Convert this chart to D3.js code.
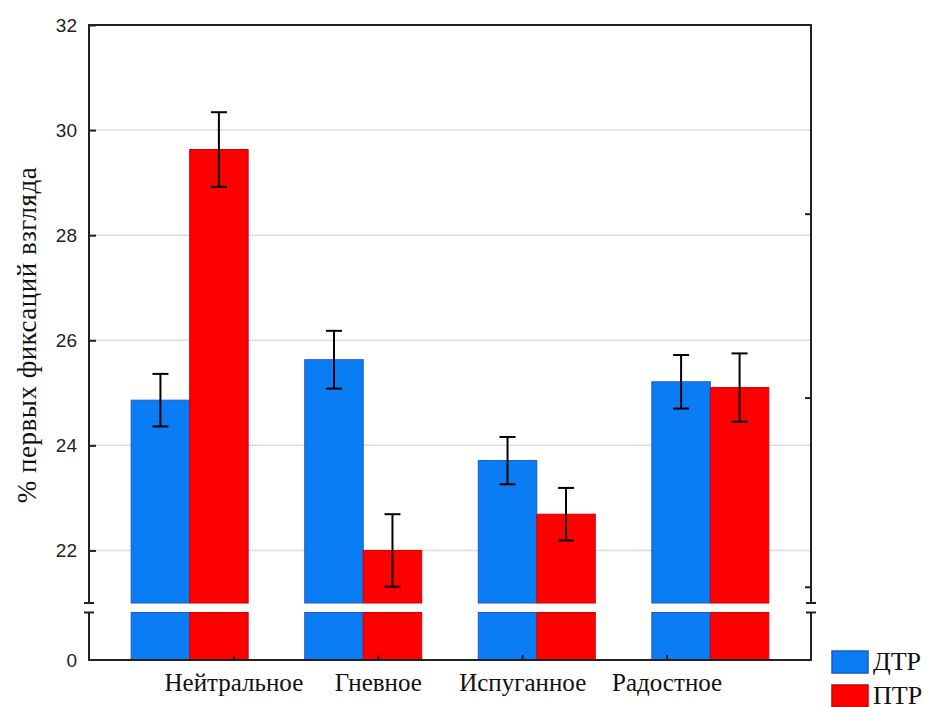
<!DOCTYPE html>
<html>
<head>
<meta charset="utf-8">
<script src="https://cdn.jsdelivr.net/npm/d3@7"></script>
<style>
  body { margin: 0; background: #fff; }
  .tick text { font-family: "Liberation Sans", Arial, sans-serif; }
</style>
</head>
<body>
<div id="chart-area"></div>
<script>
var width = 930,
    height = 707;

// data
var categories = ["Нейтральное", "Гневное", "Испуганное", "Радостное"];
var seriesNames = ["ДТР", "ПТР"];
var dtrValues = [24.86, 25.63, 23.71, 25.21];
var dtrErrors = [0.50, 0.55, 0.45, 0.51];
var ptrValues = [29.63, 22.00, 22.69, 25.10];
var ptrErrors = [0.71, 0.69, 0.50, 0.65];
var yTicks = [22, 24, 26, 28, 30, 32];
var rightTicks = [28.4, 24.9, 21.3];
var colors = ["#0a7df5", "#ff0000"];
var strokes = ["#1f57c8", "#d10000"];

var mLeft = 89, mRight = 811, mTop = 25, mBottom = 660;
var breakTop = 603, breakBottom = 612.5;

var svg = d3.select("#chart-area").append("svg")
    .attr("width", width)
    .attr("height", height);

// upper part of broken axis
var y = d3.scaleLinear()
    .domain([21, 32])
    .range([breakTop, mTop]);

// lower stub below the break (0 .. 1)
var y0 = d3.scaleLinear()
    .domain([0, 1])
    .range([mBottom, breakBottom]);

var x = d3.scalePoint()
    .domain(categories)
    .range([mLeft, mRight])
    .padding(0.58);

var xLabel = d3.scalePoint()
    .domain(categories)
    .range([mLeft, mRight])
    .padding(1);

var barW = x.step() * 0.337;
var xSub = d3.scaleBand()
    .domain(seriesNames)
    .range([-barW, barW]);

var rows = [];
categories.forEach(function(c, i) {
    rows.push({cat: c, s: 0, v: dtrValues[i], e: dtrErrors[i]});
    rows.push({cat: c, s: 1, v: ptrValues[i], e: ptrErrors[i]});
});

// grid lines
svg.selectAll(".grid")
    .data(yTicks.slice(0, -1))
    .enter().append("line")
    .attr("x1", mLeft).attr("x2", mRight)
    .attr("y1", d => y(d)).attr("y2", d => y(d))
    .style("stroke", "#dcdcdc")
    .style("stroke-width", 1.5);

// bars, upper part
svg.selectAll(".barU")
    .data(rows)
    .enter().append("rect")
    .attr("x", d => x(d.cat) + xSub(seriesNames[d.s]))
    .attr("width", xSub.bandwidth())
    .attr("y", d => y(d.v))
    .attr("height", d => y(21) - y(d.v))
    .style("fill", d => colors[d.s])
    .style("stroke", d => strokes[d.s])
    .style("stroke-width", 1);

// bars, lower part
svg.selectAll(".barL")
    .data(rows)
    .enter().append("rect")
    .attr("x", d => x(d.cat) + xSub(seriesNames[d.s]))
    .attr("width", xSub.bandwidth())
    .attr("y", y0(1))
    .attr("height", y0(0) - y0(1))
    .style("fill", d => colors[d.s])
    .style("stroke", d => strokes[d.s])
    .style("stroke-width", 1);

// error bars
var eb = svg.selectAll(".err")
    .data(rows)
    .enter().append("g")
    .attr("transform", d => "translate(" + (x(d.cat) + xSub(seriesNames[d.s]) + xSub.bandwidth() / 2) + ",0)");
eb.append("line")
    .attr("y1", d => y(d.v + d.e)).attr("y2", d => y(d.v - d.e))
    .style("stroke", "#000").style("stroke-width", 2);
eb.append("line")
    .attr("x1", -8).attr("x2", 8)
    .attr("y1", d => y(d.v + d.e)).attr("y2", d => y(d.v + d.e))
    .style("stroke", "#000").style("stroke-width", 2);
eb.append("line")
    .attr("x1", -8).attr("x2", 8)
    .attr("y1", d => y(d.v - d.e)).attr("y2", d => y(d.v - d.e))
    .style("stroke", "#000").style("stroke-width", 2);

// frame
var frameColor = "#222";
svg.append("path")
    .attr("d", "M" + mLeft + "," + breakTop + "V" + mTop + "H" + mRight + "V" + breakTop)
    .style("fill", "none").style("stroke", frameColor).style("stroke-width", 2);
svg.append("path")
    .attr("d", "M" + mLeft + "," + breakBottom + "V" + mBottom + "H" + mRight + "V" + breakBottom)
    .style("fill", "none").style("stroke", frameColor).style("stroke-width", 2);

// break caps
[mLeft, mRight].forEach(function(xx) {
    [breakTop, breakBottom].forEach(function(yy) {
        svg.append("line")
            .attr("x1", xx - 5).attr("x2", xx + 5)
            .attr("y1", yy).attr("y2", yy)
            .style("stroke", frameColor).style("stroke-width", 2);
    });
});

// left axis
var yAxis = svg.append("g")
    .attr("transform", "translate(" + mLeft + ",0)")
    .call(d3.axisLeft(y).tickValues(yTicks).tickSize(-7).tickPadding(12).tickFormat(d3.format("d")));
yAxis.select(".domain").remove();
yAxis.selectAll(".tick line").style("stroke", frameColor).style("stroke-width", 2);
yAxis.selectAll(".tick text").style("font-size", "19px").style("fill", "#222");

var y0Axis = svg.append("g")
    .attr("transform", "translate(" + mLeft + ",0)")
    .call(d3.axisLeft(y0).tickValues([0]).tickSize(0).tickPadding(12).tickFormat(d3.format("d")));
y0Axis.select(".domain").remove();
y0Axis.selectAll(".tick text").style("font-size", "19px").style("fill", "#222");

// right axis minor ticks
svg.selectAll(".rtick")
    .data(rightTicks)
    .enter().append("line")
    .attr("x1", mRight - 6).attr("x2", mRight)
    .attr("y1", d => y(d)).attr("y2", d => y(d))
    .style("stroke", frameColor).style("stroke-width", 2);

// bottom axis
var xAxis = svg.append("g")
    .attr("transform", "translate(0," + mBottom + ")")
    .call(d3.axisBottom(xLabel).tickSize(-5).tickPadding(13));
xAxis.select(".domain").remove();
xAxis.selectAll(".tick line").style("stroke", frameColor).style("stroke-width", 2);
xAxis.selectAll(".tick text")
    .style("font-family", "'Liberation Serif', 'Times New Roman', serif")
    .style("font-size", "25px")
    .style("fill", "#111");

// y label
svg.append("text")
    .attr("transform", "translate(36,335) rotate(-90)")
    .attr("text-anchor", "middle")
    .style("font-family", "'Liberation Serif', 'Times New Roman', serif")
    .style("font-size", "27px")
    .style("letter-spacing", "0.5px")
    .style("fill", "#111")
    .text("% первых фиксаций взгляда");

// legend
var legend = svg.selectAll(".legend")
    .data(seriesNames)
    .enter().append("g")
    .attr("transform", (d, i) => "translate(832," + (651 + i * 34) + ")");
legend.append("rect")
    .attr("width", 36).attr("height", 22)
    .style("fill", (d, i) => colors[i])
    .style("stroke", (d, i) => strokes[i])
    .style("stroke-width", 1.5);
legend.append("text")
    .attr("x", 41).attr("y", 19)
    .style("font-family", "'Liberation Serif', 'Times New Roman', serif")
    .style("font-size", "26px")
    .style("fill", "#111")
    .text(d => d);
</script>
</body>
</html>
